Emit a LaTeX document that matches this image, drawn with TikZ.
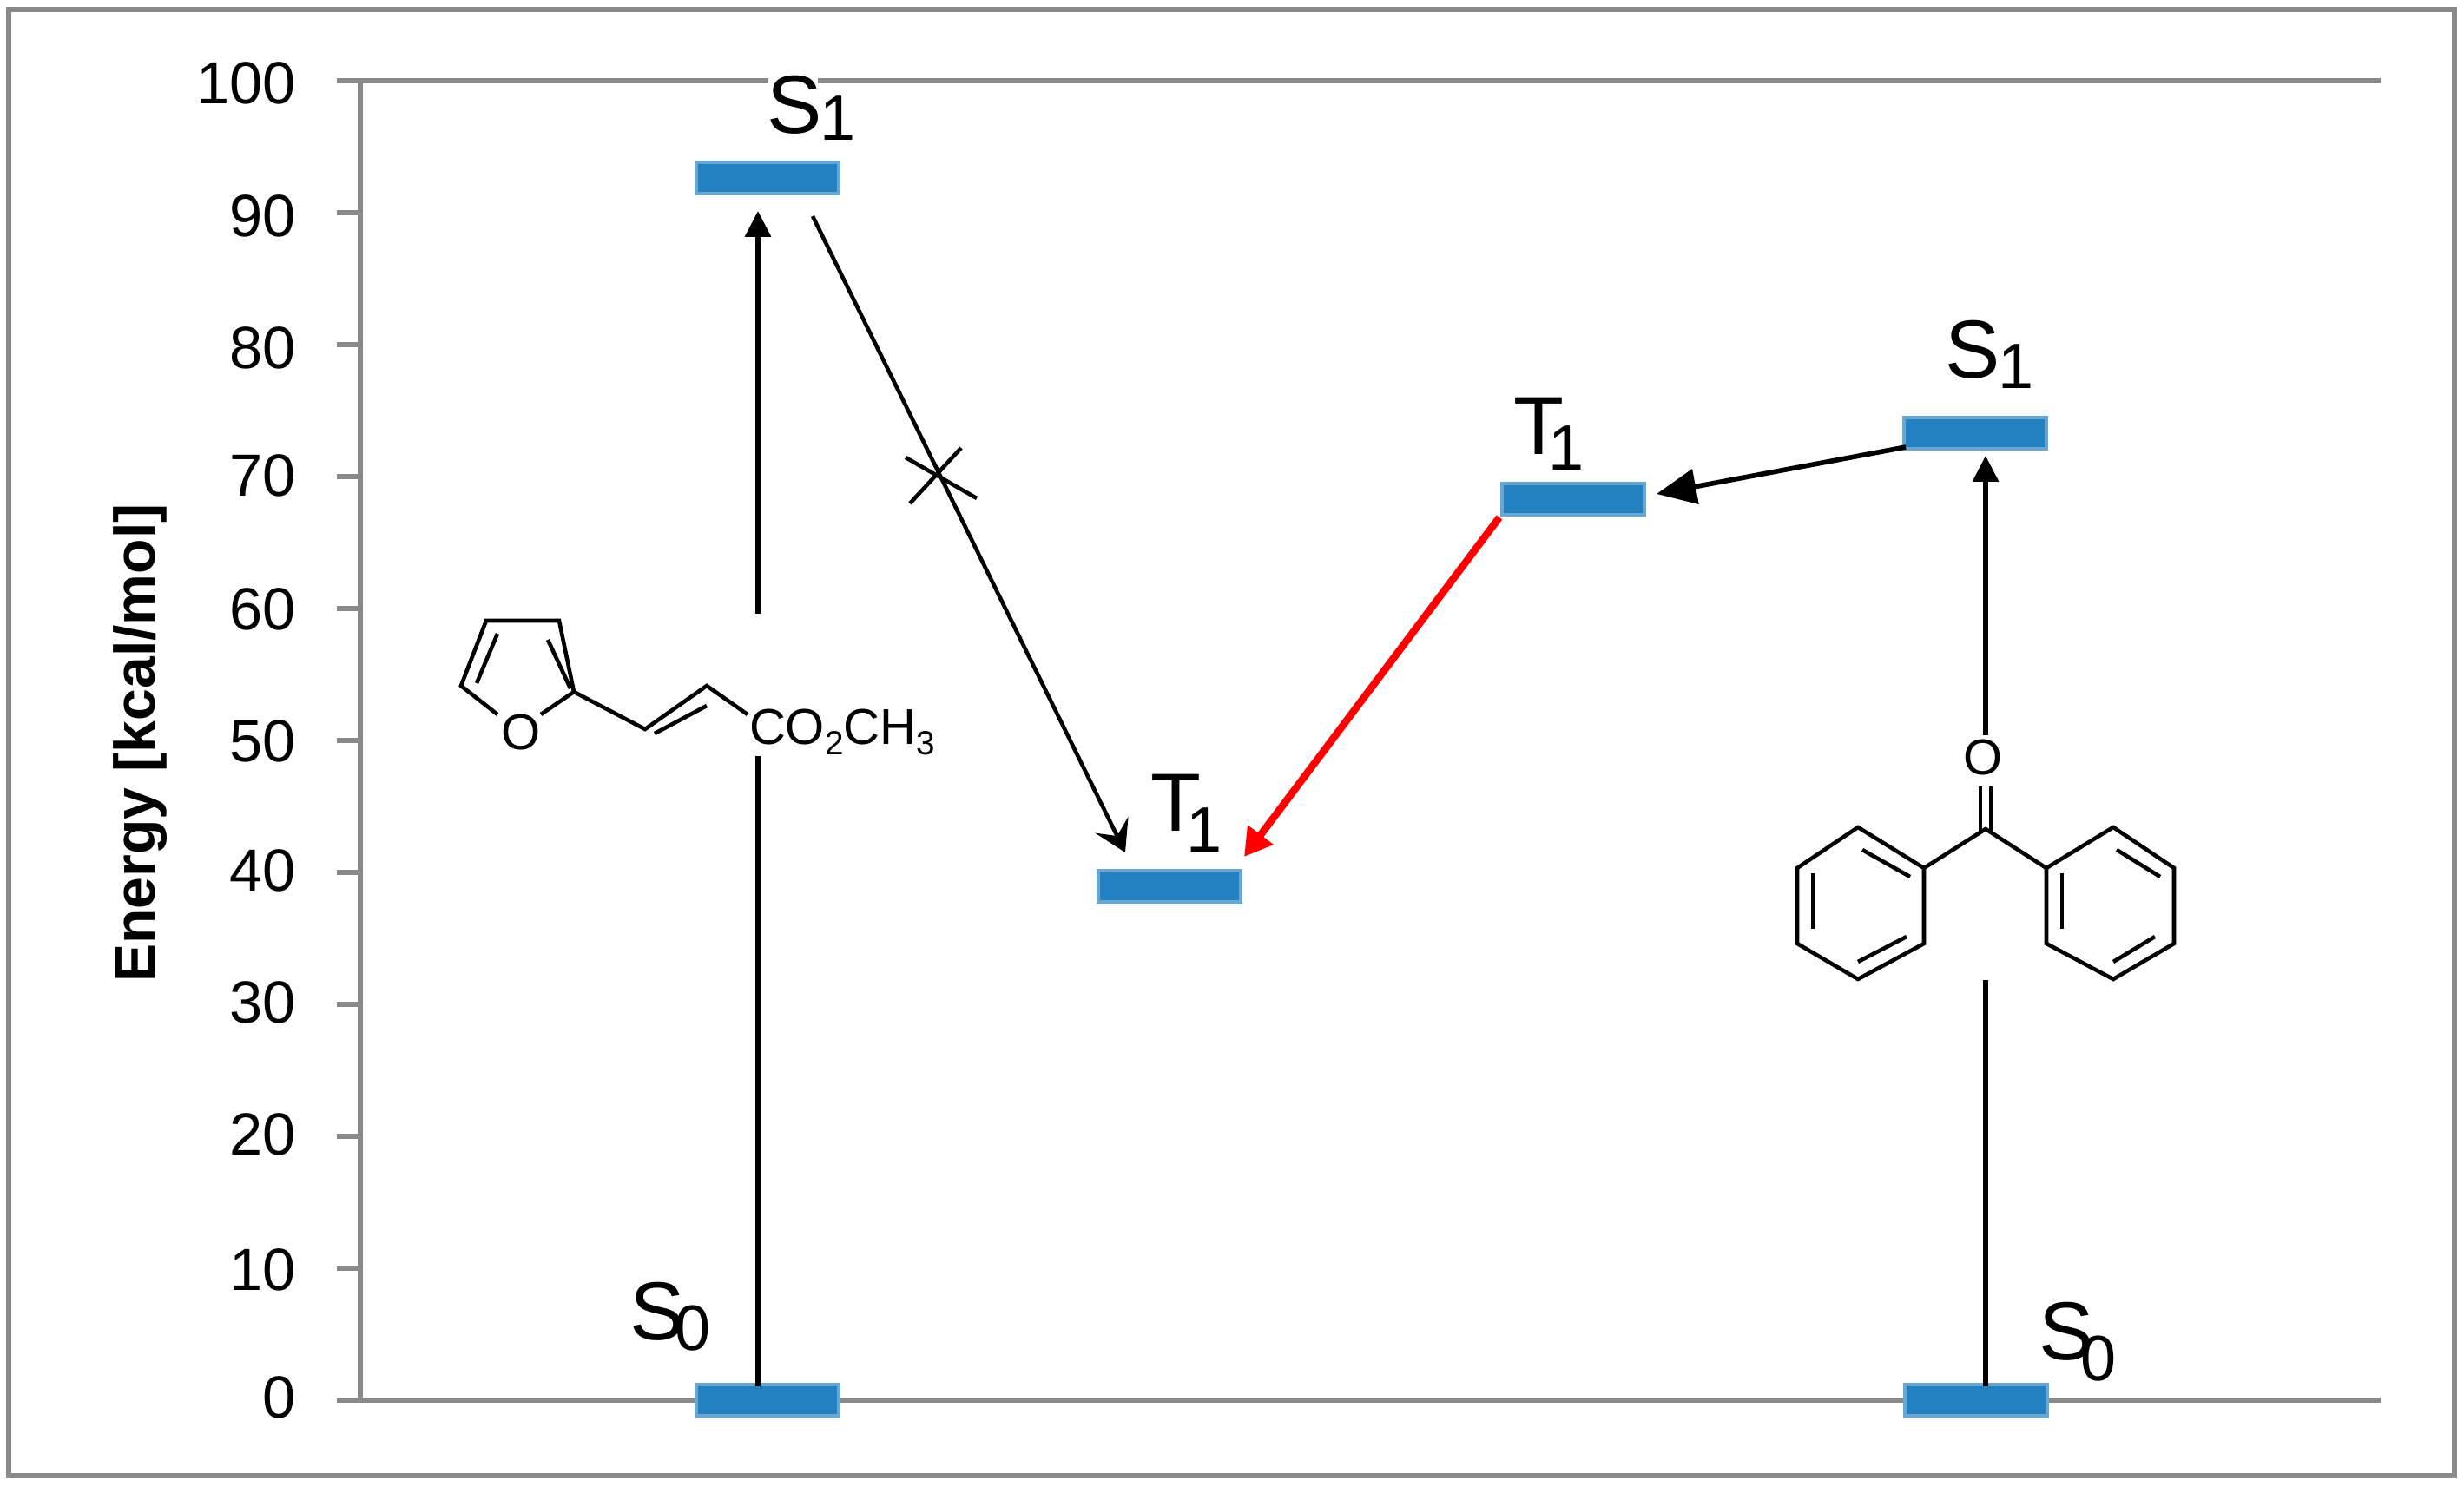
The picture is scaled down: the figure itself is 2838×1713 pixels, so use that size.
\documentclass[tikz,border=0pt]{standalone}
\usepackage{fontspec}
\setmainfont{Liberation Sans}
\usetikzlibrary{arrows.meta}

\definecolor{barblue}{HTML}{2481C1}
\definecolor{axisgrey}{HTML}{898989}

% state label: letter, index, kern, drop
\newcommand{\statelabel}[4]{#1\kern#3\raisebox{#4}{\fontsize{21}{21}\selectfont #2}}
\newcommand{\atomsub}[1]{\raisebox{-3.4pt}{\fontsize{11}{11}\selectfont #1}}

\begin{document}
\begin{tikzpicture}
  [x=0.01cm,y=-0.01cm,every node/.style={inner sep=0pt,outer sep=0pt}]

  \tikzstyle{frameline} = [draw=axisgrey,line width=1.7pt]
  \tikzstyle{level} = [draw=barblue!70,line width=1.2pt,fill=barblue,
    minimum width=46.8pt,minimum height=10.2pt]
  \tikzstyle{ticklabel} = [anchor=east,font=\fontsize{19.5}{19.5}\selectfont]
  \tikzstyle{state} = [anchor=base west,font=\fontsize{27}{27}\selectfont]
  \tikzstyle{atom} = [font=\fontsize{16.5}{16.5}\selectfont]
  \tikzstyle{bond} = [line width=1.3pt,line join=miter]

  \useasboundingbox (0,0) rectangle (2838,1713);

  \draw[frameline] (10,11) rectangle (2827,1700);
  \path[frameline]
        (415,93) -- (415,1613)
        (388,93) -- (885,93) (942,93) -- (2742,93)
        (388,1613) -- (2742,1613)
        (388,245) -- (415,245)
        (388,397) -- (415,397)
        (388,549) -- (415,549)
        (388,701) -- (415,701)
        (388,853) -- (415,853)
        (388,1005) -- (415,1005)
        (388,1157) -- (415,1157)
        (388,1309) -- (415,1309)
        (388,1461) -- (415,1461);

  \node[ticklabel] (l100) at (341,96)   {100};
  \node[ticklabel] (l90)  at (341,249)  {90};
  \node[ticklabel] (l80)  at (341,401)  {80};
  \node[ticklabel] (l70)  at (341,548)  {70};
  \node[ticklabel] (l60)  at (341,702)  {60};
  \node[ticklabel] (l50)  at (341,854)  {50};
  \node[ticklabel] (l40)  at (341,1003) {40};
  \node[ticklabel] (l30)  at (341,1155) {30};
  \node[ticklabel] (l20)  at (341,1307) {20};
  \node[ticklabel] (l10)  at (341,1463) {10};
  \node[ticklabel] (l0)   at (341,1610) {0};

  \node[rotate=90,anchor=base,font=\fontsize{18.8}{18.8}\selectfont\bfseries]
    (title) at (178,856) {Energy [kcal/mol]};

  \node[level] (s0a) at (884,1613) {};
  \node[level] (s1a) at (884,205)  {};
  \node[level] (t1a) at (1347,1021) {};
  \node[level] (t1b) at (1812,575) {};
  \node[level] (s1b) at (2275,499) {};
  \node[level] (s0b) at (2276,1613) {};

  \node[state] (s1atxt) at (883,154)   {\statelabel{S}{1}{-0.4pt}{-2pt}};
  \node[state] (s0atxt) at (725,1544)  {\statelabel{S}{0}{-3.1pt}{-3.4pt}};
  \node[state] (t1atxt) at (1325,958)  {\statelabel{T}{1}{-4.8pt}{-6.8pt}};
  \node[state] (t1btxt) at (1743,524)  {\statelabel{T}{1}{-4.9pt}{-5.1pt}};
  \node[state] (s1btxt) at (2240,436)  {\statelabel{S}{1}{-0.4pt}{-3.4pt}};
  \node[state] (s0btxt) at (2348,1567) {\statelabel{S}{0}{-4.3pt}{-6.8pt}};

  % free ends of the arrows
  \coordinate (a0) at (873,1597);
  \coordinate (a1) at (873,871);
  \coordinate (a2) at (873,707);
  \coordinate (a3) at (873,243);
  \coordinate (b0) at (2287,1597);
  \coordinate (b1) at (2287,1129);
  \coordinate (b2) at (2287,847);
  \coordinate (b3) at (2287,525);
  \coordinate (c0) at (936,249);
  \coordinate (c1) at (1296,982);
  \coordinate (d0) at (1727,596);
  \coordinate (d1) at (1433,987);
  \coordinate (e0) at (2195,515);
  \coordinate (e1) at (1908,569);

  \path[line width=1.6pt,>={Stealth[length=8.5pt,width=8.3pt,inset=0pt]}]
        (a0) edge (a1)
        (a2) edge [->] (a3)
        (b0) edge (b1)
        (b2) edge [->] (b3);
  \path[->,line width=1.6pt,>={Stealth[length=13pt,width=11.4pt,inset=0pt]}]
        (e0) edge (e1);
  \path[->,bond,>={Stealth[length=10pt,width=12pt,inset=4pt]}]
        (c0) edge (c1);
  \path[->,red,line width=2.4pt,>={Stealth[length=9pt,width=10pt,inset=0pt]}]
        (d0) edge (d1);

  % cross on the forbidden path
  \draw[bond] (1043,527) -- (1125,574);
  \draw[bond] (1107,516) -- (1048,580);

  % furan side
  \node[atom,anchor=base] (furo) at (600,864) {O};
  \node[atom,anchor=base west] (ester) at (863,858) {CO\atomsub{2}CH\atomsub{3}};
  \coordinate (f1) at (573,823);
  \coordinate (f2) at (531,790);
  \coordinate (f3) at (560,715);
  \coordinate (f4) at (644,715);
  \coordinate (f5) at (661,797);
  \coordinate (f6) at (623,823);
  \coordinate (f7) at (743,840);
  \coordinate (f8) at (814,790);
  \coordinate (f9) at (861,823);
  \draw[bond] (f1) -- (f2) -- (f3) -- (f4) -- (f5) -- (f6);
  \draw[bond] (f5) -- (f7) -- (f8) -- (f9);
  \draw[bond] (573,730) -- (549,787);
  \draw[bond] (631,737) -- (657,793);
  \draw[bond] (754,845) -- (814,813);

  % benzophenone side
  \node[atom,anchor=base] (keto) at (2284,893) {O};
  \coordinate (k0) at (2287,955);
  \coordinate (k1) at (2140,953);
  \coordinate (k2) at (2216,1000);
  \coordinate (k3) at (2216,1087);
  \coordinate (k4) at (2140,1128);
  \coordinate (k5) at (2070,1087);
  \coordinate (k6) at (2070,1000);
  \coordinate (m1) at (2434,953);
  \coordinate (m2) at (2504,1000);
  \coordinate (m3) at (2504,1087);
  \coordinate (m4) at (2434,1128);
  \coordinate (m5) at (2357,1087);
  \coordinate (m6) at (2357,1000);
  \draw[bond] (k1) -- (k2) -- (k3) -- (k4) -- (k5) -- (k6) -- cycle;
  \draw[bond] (m1) -- (m2) -- (m3) -- (m4) -- (m5) -- (m6) -- cycle;
  \draw[bond] (k2) -- (k0) -- (m6);
  \draw[bond] (2281,906) -- (2281,957);
  \draw[bond] (2293,906) -- (2293,957);
  \draw[bond] (2088,1006) -- (2088,1070);
  \draw[bond] (2145,979) -- (2200,1010);
  \draw[bond] (2140,1108) -- (2196,1079);
  \draw[bond] (2375,1006) -- (2375,1070);
  \draw[bond] (2438,979) -- (2488,1010);
  \draw[bond] (2434,1108) -- (2482,1079);
\end{tikzpicture}
\end{document}
